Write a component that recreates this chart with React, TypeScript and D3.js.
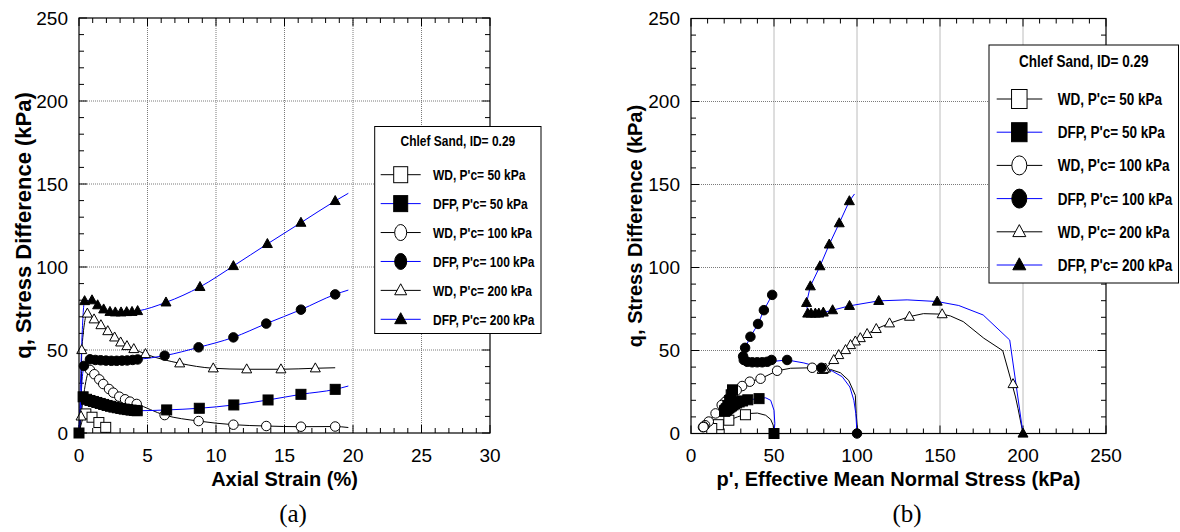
import React from 'react';
import * as d3 from 'd3';

type Pt = [number, number];

// ---------- (a) Axial strain (%) vs q (kPa) ----------
const WD50_A: Pt[] = [[0.5, 11.5], [0.95, 9.5], [1.45, 6.3], [1.95, 3.4]];
const WD50_A_END: Pt = [2.25, 0.4];
const DFP50_A: Pt[] = [[0, 0], [0.3, 21.8], [0.55, 20.3], [0.8, 19.6], [1.05, 19], [1.3, 18.4], [1.55, 17.8], [1.8, 17.2], [2.05, 16.6], [2.3, 16.1], [2.55, 15.6], [2.8, 15.2], [3.05, 14.8], [3.3, 14.4], [3.55, 14.1], [3.8, 13.8], [4.05, 13.6], [4.25, 13.4], [6.4, 13.9], [8.78, 14.9], [11.3, 16.9], [13.8, 19.9], [16.2, 23.3], [18.7, 26.3]];
const DFP50_A_END: Pt = [19.66, 28.3];
const WD100_A: Pt[] = [[0.8, 38], [1.12, 35.4], [1.48, 32.3], [1.77, 29.5], [2.19, 26.5], [2.5, 24.3], [2.94, 21.9], [3.36, 20.3], [3.72, 18.9], [4.21, 17.5], [6.25, 10.8], [8.73, 7.2], [11.27, 5], [13.67, 4.2], [16.2, 3.8], [18.7, 3.9]];
const WD100_A_END: Pt = [19.66, 3.3];
const DFP100_A: Pt[] = [[0.36, 40.4], [0.8, 44.4], [1.19, 44], [1.58, 43.8], [1.97, 43.6], [2.36, 43.5], [2.75, 43.5], [3.14, 43.6], [3.52, 43.7], [3.92, 44], [4.28, 44.3], [6.25, 46.6], [8.73, 51.6], [11.27, 57.6], [13.67, 65.9], [16.2, 74.3], [18.7, 83.5]];
const DFP100_A_END: Pt = [19.66, 86.1];
const WD200_A: Pt[] = [[0.15, 10], [0.2, 50], [0.61, 72], [1.1, 68.5], [1.6, 65], [2.1, 61.4], [2.6, 57.6], [3.04, 54.6], [3.5, 52.4], [4.0, 50.6], [4.85, 47.6], [7.35, 42], [9.8, 39], [12.24, 38.4], [14.74, 38.4], [17.25, 39]];
const WD200_A_END: Pt = [18.7, 39.3];
const DFP200_A: Pt[] = [[0.41, 79.5], [0.95, 80], [1.36, 77], [1.8, 74.5], [2.26, 73], [2.65, 72.7], [3.07, 72.7], [3.48, 72.9], [3.87, 73], [4.28, 73.5], [6.35, 78.7], [8.83, 88], [11.27, 100.6], [13.75, 113.9], [16.2, 126.7], [18.7, 139.8]];
const DFP200_A_END: Pt = [19.66, 144.4];

// ---------- (b) p' (kPa) vs q (kPa) ----------
const WD50_B: Pt[] = [[32.8, 11.3], [22.8, 8], [16.5, 5.3], [12.5, 3]];
const WD50_B_PATH: Pt[] = [[50, 0], [49.5, 5], [48, 8.5], [45, 11], [40, 12.3], [34, 12], [28, 10], [22.8, 8], [16.5, 5.3], [12.5, 3], [9, 1.5]];
const DFP50_B: Pt[] = [[50, 0], [41, 21], [34.2, 20.3], [31, 19.6], [29, 19], [27.5, 18.4], [26.3, 17.8], [25.3, 17.2], [24.4, 16.6], [23.6, 16.1], [22.9, 15.6], [22.3, 15.2], [21.8, 14.8], [21.3, 14.4], [20.9, 14.1], [20.6, 13.8], [20.4, 13.6], [20.2, 13.4], [20.6, 13.9], [21.3, 14.9], [22.2, 16.9], [23.3, 19.9], [24.2, 23.3], [25, 26.3]];
const DFP50_B_PATH: Pt[] = [[50, 0], [50.5, 6], [50, 14], [48, 20], [45, 21.5], [41, 21], [34.2, 20.3], [31, 19.6], [29, 19], [27.5, 18.4], [26.3, 17.8], [25.3, 17.2], [24.4, 16.6], [23.6, 16.1], [22.9, 15.6], [22.3, 15.2], [21.8, 14.8], [21.3, 14.4], [20.9, 14.1], [20.6, 13.8], [20.4, 13.6], [20.2, 13.4], [20.6, 13.9], [21.3, 14.9], [22.2, 16.9], [23.3, 19.9], [24.2, 23.3], [25, 26.3], [25.5, 28]];
const WD100_B: Pt[] = [[73, 39.6], [51.9, 37.8], [41.9, 33], [35.4, 31.2], [30.8, 28.6], [27.5, 26], [25, 23.5], [22.5, 21], [20.5, 19], [18.5, 17.2], [14.8, 12.1], [10.7, 7.2], [8.5, 5], [7.7, 4.2], [7.2, 3.8], [7.5, 3.9]];
const WD100_B_PATH: Pt[] = [[100.5, 0], [99.5, 12], [99, 23], [95, 32], [90, 36.6], [84, 38.6], [73, 39.6], [60, 39.3], [51.9, 37.8], [41.9, 33], [35.4, 31.2], [30.8, 28.6], [27.5, 26], [25, 23.5], [22.5, 21], [20.5, 19], [18.5, 17.2], [14.8, 12.1], [10.7, 7.2], [8.5, 5], [7.5, 3.9], [6.5, 3]];
const DFP100_B: Pt[] = [[100, 0], [78.6, 39.6], [57.9, 44.3], [48.5, 44.3], [45.9, 43.2], [42.9, 42.9], [39.9, 42.9], [36.9, 42.9], [33.9, 43.2], [31.8, 44.3], [31.4, 46.5], [32.6, 51.6], [35.8, 58.3], [40.4, 66], [43.9, 74.3], [48.9, 83.5]];
const DFP100_B_PATH: Pt[] = [[100, 0], [99.3, 12], [98.1, 20], [95.7, 28], [91.1, 34.2], [85.1, 37.6], [78.6, 39.6], [68, 42.5], [57.9, 44.3], [50, 43.5], [45.9, 43.2], [42.9, 42.9], [39.9, 42.9], [36.9, 42.9], [33.9, 43.2], [31.8, 44.3], [31.4, 46.5], [32.6, 51.6], [35.8, 58.3], [40.4, 66], [43.9, 74.3], [48.9, 83.5], [49.5, 86]];
const WD200_B: Pt[] = [[194, 29.8], [151.3, 71.9], [131.6, 70.4], [119.6, 66.4], [111.6, 63], [106.1, 60], [102, 57.5], [99, 55.5], [96.1, 53.3], [93.1, 50.3], [89, 47.3], [86, 44.3], [81, 39.2], [79.5, 38.4], [79, 38.4], [80, 39]];
const WD200_B_PATH: Pt[] = [[200, 0], [197, 15], [195.5, 22], [193.4, 29.8], [187.8, 49.9], [176.4, 57.4], [164, 67.4], [156.3, 70.8], [151.3, 71.9], [140, 72.2], [131.6, 70.4], [119.6, 66.4], [111.6, 63], [106.1, 60], [102, 57.5], [99, 55.5], [96.1, 53.3], [93.1, 50.3], [89, 47.3], [86, 44.3], [81, 39.2], [79.5, 38.4]];
const DFP200_B: Pt[] = [[200, 0], [148.3, 79.5], [113.1, 79.9], [95.5, 76.9], [85.3, 74.3], [79.7, 72.9], [77, 72.3], [74.9, 72.3], [72.3, 72.3], [70.3, 72.3], [69.6, 78.7], [71.9, 88.7], [77.7, 100.8], [83.3, 113.9], [89.3, 126.7], [95.4, 140]];
const DFP200_B_PATH: Pt[] = [[200, 0], [192, 56.3], [176, 71.4], [161.3, 77.1], [148.3, 79.5], [130.2, 80.5], [113.1, 79.9], [95.5, 76.9], [85.3, 74.3], [79.7, 72.9], [77, 72.3], [74.9, 72.3], [72.3, 72.3], [70.3, 72.3], [69.6, 78.7], [71.9, 88.7], [77.7, 100.8], [83.3, 113.9], [89.3, 126.7], [95.4, 140], [98.5, 144.3]];

// ---------- ticks / labels ----------
const A_X_TICKS = [0, 5, 10, 15, 20, 25, 30];
const B_X_TICKS = [0, 50, 100, 150, 200, 250];
const Y_TICKS = [0, 50, 100, 150, 200, 250];
const LEGEND_TITLE = 'Chlef Sand, ID= 0.29';
const SERIES_LABELS = ['WD, P\'c= 50 kPa', 'DFP, P\'c= 50 kPa', 'WD, P\'c= 100 kPa', 'DFP, P\'c= 100 kPa', 'WD, P\'c= 200 kPa', 'DFP, P\'c= 200 kPa'];
const SERIES_SHAPES = ['square', 'square', 'circle', 'circle', 'triangle', 'triangle'];
const SERIES_FILLED = [false, true, false, true, false, true];

const BLUE = '#0000ff';
const NARROW = 0.82;

type Series = { pts: Pt[]; path: Pt[]; shape: string; filled: boolean };

const seriesA: Series[] = [
  { pts: WD50_A, path: [[0, 0], ...WD50_A, WD50_A_END] },
  { pts: DFP50_A, path: [...DFP50_A, DFP50_A_END] },
  { pts: WD100_A, path: [[0, 0], ...WD100_A, WD100_A_END] },
  { pts: DFP100_A, path: [[0, 0], ...DFP100_A, DFP100_A_END] },
  { pts: WD200_A, path: [[0, 0], ...WD200_A, WD200_A_END] },
  { pts: DFP200_A, path: [[0, 0], ...DFP200_A, DFP200_A_END] },
].map((s, i) => ({ ...s, shape: SERIES_SHAPES[i], filled: SERIES_FILLED[i] }));

const seriesB: Series[] = [
  { pts: WD50_B, path: WD50_B_PATH },
  { pts: DFP50_B, path: DFP50_B_PATH },
  { pts: WD100_B, path: WD100_B_PATH },
  { pts: DFP100_B, path: DFP100_B_PATH },
  { pts: WD200_B, path: WD200_B_PATH },
  { pts: DFP200_B, path: DFP200_B_PATH },
].map((s, i) => ({ ...s, shape: SERIES_SHAPES[i], filled: SERIES_FILLED[i] }));

function Marker({ shape, filled, cx, cy, w, h }: { shape: string; filled: boolean; cx: number; cy: number; w: number; h: number }) {
  const fill = filled ? '#000' : '#fff';
  if (shape === 'square') return <rect x={cx - w / 2} y={cy - h / 2} width={w} height={h} fill={fill} stroke="#000" strokeWidth={1} />;
  if (shape === 'circle') return <ellipse cx={cx} cy={cy} rx={w / 2} ry={h / 2} fill={fill} stroke="#000" strokeWidth={1} />;
  return <path d={`M${cx},${cy - h * 0.6}L${cx + w / 2},${cy + h * 0.4}L${cx - w / 2},${cy + h * 0.4}Z`} fill={fill} stroke="#000" strokeWidth={1} />;
}

type LegendLayout = { x0: number; y0: number; x1: number; y1: number; titleY: number; firstY: number; step: number; lx0: number; lx1: number; mx: number; tx: number; font: number; sq: [number, number]; ci: [number, number]; tr: [number, number] };

function Legend({ L }: { L: LegendLayout }) {
  return (
    <g>
      <rect x={L.x0} y={L.y0} width={L.x1 - L.x0} height={L.y1 - L.y0} fill="#fff" stroke="#000" strokeWidth={1} />
      <text transform={`translate(${(L.x0 + L.x1) / 2},${L.titleY}) scale(${NARROW},1)`} textAnchor="middle" fontWeight="bold" fontSize={L.font}>{LEGEND_TITLE}</text>
      {SERIES_LABELS.map((lab, i) => {
        const y = L.firstY + i * L.step;
        const size = SERIES_SHAPES[i] === 'square' ? L.sq : SERIES_SHAPES[i] === 'circle' ? L.ci : L.tr;
        return (
          <g key={i}>
            <line x1={L.lx0} x2={L.lx1} y1={y} y2={y} stroke={SERIES_FILLED[i] ? BLUE : '#000'} strokeWidth={1} />
            <Marker shape={SERIES_SHAPES[i]} filled={SERIES_FILLED[i]} cx={L.mx} cy={y} w={size[0]} h={size[1]} />
            <text transform={`translate(${L.tx},${y + L.font * 0.36}) scale(${NARROW},1)`} fontWeight="bold" fontSize={L.font}>{lab}</text>
          </g>
        );
      })}
    </g>
  );
}

type PanelProps = {
  xs: d3.ScaleLinear<number, number>; ys: d3.ScaleLinear<number, number>;
  xTicks: number[]; xMinorStep: number; yMinorStep: number;
  series: Series[]; curve: d3.CurveFactory;
  xTitle: string; yTitle: string; yTitleX: number; yTitleSize: number;
  tag: string; legend: LegendLayout;
};

function Panel(p: PanelProps) {
  const { xs, ys } = p;
  const [X0, X1] = xs.range();
  const [Y0, Y1] = ys.range(); // Y0 bottom, Y1 top
  const xd = xs.domain(), yd = ys.domain();
  const line = d3.line<Pt>().x(d => xs(d[0])).y(d => ys(d[1])).curve(p.curve);
  const xMinor = d3.range(xd[0], xd[1] + 1e-9, p.xMinorStep).filter(v => !p.xTicks.includes(v));
  const yMinor = d3.range(yd[0], yd[1] + 1e-9, p.yMinorStep).filter(v => !Y_TICKS.includes(v));
  const MAJ = 8, MIN = 5;
  const order = [0, 2, 4, 1, 3, 5];
  const grid = '#7a7a7a';
  return (
    <g>
      {p.xTicks.slice(1, -1).map(v => <line key={'gx' + v} x1={xs(v)} x2={xs(v)} y1={Y0} y2={Y1} stroke={grid} strokeWidth={1} strokeDasharray="1,1" />)}
      {Y_TICKS.slice(1, -1).map(v => <line key={'gy' + v} x1={X0} x2={X1} y1={ys(v)} y2={ys(v)} stroke={grid} strokeWidth={1} strokeDasharray="1,1" />)}
      {p.xTicks.map(v => <g key={'tx' + v}><line x1={xs(v)} x2={xs(v)} y1={Y0} y2={Y0 - MAJ} stroke="#000" /><line x1={xs(v)} x2={xs(v)} y1={Y1} y2={Y1 + MAJ} stroke="#000" /></g>)}
      {xMinor.map(v => <g key={'mx' + v}><line x1={xs(v)} x2={xs(v)} y1={Y0} y2={Y0 - MIN} stroke="#000" /><line x1={xs(v)} x2={xs(v)} y1={Y1} y2={Y1 + MIN} stroke="#000" /></g>)}
      {Y_TICKS.map(v => <g key={'ty' + v}><line x1={X0} x2={X0 + MAJ} y1={ys(v)} y2={ys(v)} stroke="#000" /><line x1={X1} x2={X1 - MAJ} y1={ys(v)} y2={ys(v)} stroke="#000" /></g>)}
      {yMinor.map(v => <g key={'my' + v}><line x1={X0} x2={X0 + MIN} y1={ys(v)} y2={ys(v)} stroke="#000" /><line x1={X1} x2={X1 - MIN} y1={ys(v)} y2={ys(v)} stroke="#000" /></g>)}
      {order.map(i => <path key={'l' + i} d={line(p.series[i].path) || ''} fill="none" stroke={p.series[i].filled ? BLUE : '#000'} strokeWidth={1} />)}
      {order.map(i => (
        <g key={'m' + i}>
          {p.series[i].pts.map((d, j) => (
            <Marker key={j} shape={p.series[i].shape} filled={p.series[i].filled} cx={xs(d[0])} cy={ys(d[1])}
              w={p.series[i].shape === 'circle' ? 9.5 : 10} h={p.series[i].shape === 'circle' ? 9.5 : p.series[i].shape === 'triangle' ? 9 : 10} />
          ))}
        </g>
      ))}
      <rect x={X0} y={Y1} width={X1 - X0} height={Y0 - Y1} fill="none" stroke="#000" strokeWidth={1.2} />
      {p.xTicks.map(v => <text key={'lx' + v} x={xs(v)} y={Y0 + 28.5} textAnchor="middle" fontSize={19}>{v}</text>)}
      {Y_TICKS.map(v => <text key={'ly' + v} x={X0 - 11} y={ys(v) + 6.8} textAnchor="end" fontSize={19}>{v}</text>)}
      <text x={(X0 + X1) / 2} y={486} textAnchor="middle" fontSize={20} fontWeight="bold">{p.xTitle}</text>
      <text transform={`translate(${p.yTitleX},${(Y0 + Y1) / 2}) rotate(-90)`} textAnchor="middle" fontSize={p.yTitleSize} fontWeight="bold">{p.yTitle}</text>
      <text x={(X0 + X1) / 2 + 8.5} y={522} textAnchor="middle" fontSize={25} fontFamily="'Liberation Serif', 'Times New Roman', serif">{p.tag}</text>
      <Legend L={p.legend} />
    </g>
  );
}

export default function App() {
  const xA = d3.scaleLinear().domain([0, 30]).range([79, 490]);
  const yA = d3.scaleLinear().domain([0, 250]).range([433, 18]);
  const xB = d3.scaleLinear().domain([0, 250]).range([691, 1106]);
  const yB = d3.scaleLinear().domain([0, 250]).range([433.5, 18.5]);
  const legA: LegendLayout = { x0: 374.7, y0: 126.5, x1: 541, y1: 333.5, titleY: 146.3, firstY: 174.7, step: 28.92, lx0: 380.7, lx1: 420.7, mx: 400.7, tx: 433, font: 14.6, sq: [14, 16], ci: [12, 16], tr: [12, 11] };
  const legB: LegendLayout = { x0: 989, y0: 45, x1: 1178.5, y1: 283, titleY: 66.8, firstY: 99, step: 33.2, lx0: 996.7, lx1: 1042.3, mx: 1019.3, tx: 1057.7, font: 16.5, sq: [15.5, 19], ci: [15, 19], tr: [13, 12] };
  return (
    <svg width={1180} height={532} viewBox="0 0 1180 532" style={{ position: 'absolute', left: 0, top: 0, background: '#fff' }}
      fontFamily="'Liberation Sans', Arial, sans-serif">
      <rect x={0} y={0} width={1180} height={532} fill="#fff" />
      <Panel xs={xA} ys={yA} xTicks={A_X_TICKS} xMinorStep={1} yMinorStep={10} series={seriesA} curve={d3.curveMonotoneX}
        xTitle="Axial Strain (%)" yTitle="q, Stress Difference (kPa)" yTitleX={31} yTitleSize={22} tag="(a)" legend={legA} />
      <Panel xs={xB} ys={yB} xTicks={B_X_TICKS} xMinorStep={10} yMinorStep={10} series={seriesB} curve={d3.curveLinear}
        xTitle="p', Effective Mean Normal Stress (kPa)" yTitle="q, Stress Difference (kPa)" yTitleX={642} yTitleSize={20} tag="(b)" legend={legB} />
    </svg>
  );
}
